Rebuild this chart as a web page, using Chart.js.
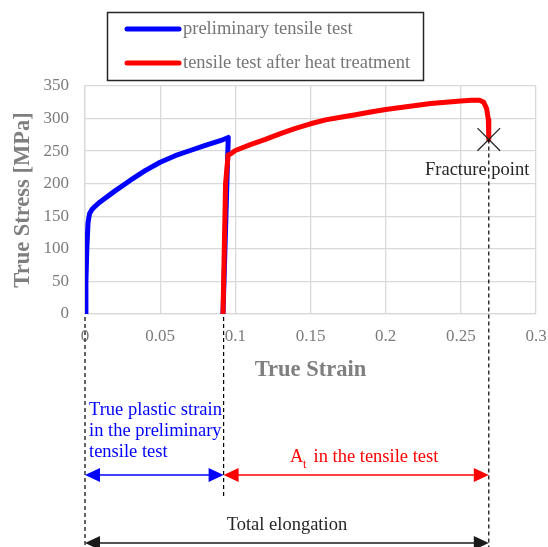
<!DOCTYPE html>
<html>
<head>
<meta charset="utf-8">
<script src="https://cdn.jsdelivr.net/npm/chart.js@4/dist/chart.umd.min.js"></script>
<style>
html,body{margin:0;padding:0;background:#fff;}
canvas{display:block;}
</style>
</head>
<body>
<canvas id="c" width="548" height="547"></canvas>
<script>
// ---- data ----
const seriesLabels = ['preliminary tensile test', 'tensile test after heat treatment'];
const blueStrain = [0, 0.0006, 0.0012, 0.002, 0.003, 0.0045, 0.0065, 0.01, 0.02, 0.03, 0.04, 0.05, 0.06, 0.07, 0.08, 0.09, 0.0953, 0.0918];
const blueStress = [0, 50, 100, 140, 154, 160, 165, 172, 189, 205, 220, 233, 243, 251, 259, 266, 271, 0];
const redStrain = [0.0918, 0.0935, 0.0952, 0.097, 0.1, 0.11, 0.12, 0.13, 0.14, 0.15, 0.16, 0.17, 0.18, 0.19, 0.2, 0.21, 0.22, 0.23, 0.24, 0.25, 0.257, 0.2625, 0.2652, 0.2672, 0.2683, 0.2686];
const redStress = [0, 200, 244, 246, 251, 260, 268, 277, 285, 292, 298, 302, 306, 310, 314, 317, 320, 323, 325, 327, 328, 328, 325, 315, 298, 268];
const fracture = {strain: 0.2686, stress: 268};
const markerStrains = [0, 0.0922, 0.2686];
const xTickLabels = ['0', '0.05', '0.1', '0.15', '0.2', '0.25', '0.3'];
const yTickLabels = ['0', '50', '100', '150', '200', '250', '300', '350'];
const xTitle = 'True Strain';
const yTitle = 'True Stress [MPa]';

const toPts = (xs, ys) => xs.map((x, i) => ({x: x, y: ys[i]}));
const SERIF = '"Liberation Serif", "Times New Roman", serif';
const colors = ['#0000ff', '#ff0000'];

const annotPlugin = {
  id: 'annot',
  afterDatasetsDraw(chart) {
    const ctx = chart.ctx;
    const xs = chart.scales.x, ys = chart.scales.y;
    const xp = v => xs.getPixelForValue(v);
    const x0 = xp(markerStrains[0]), x1 = xp(markerStrains[1]), x2 = xp(markerStrains[2]);
    ctx.save();
    // dashed guide lines
    ctx.strokeStyle = '#000';
    ctx.lineWidth = 1.2;
    ctx.setLineDash([4, 3]);
    const dl = (x, ya, yb) => { ctx.beginPath(); ctx.moveTo(x, ya); ctx.lineTo(x, yb); ctx.stroke(); };
    dl(x0, ys.getPixelForValue(0) + 3, 547);
    dl(x1, ys.getPixelForValue(0) + 3, 498);
    dl(x2, ys.getPixelForValue(fracture.stress), 547);
    ctx.setLineDash([]);

    // arrows
    const arrow = (xa, xb, y, col) => {
      ctx.strokeStyle = col; ctx.fillStyle = col; ctx.lineWidth = 1.5;
      ctx.beginPath(); ctx.moveTo(xa + 8, y); ctx.lineTo(xb - 8, y); ctx.stroke();
      const L = 15, H = 7;
      ctx.beginPath(); ctx.moveTo(xa, y); ctx.lineTo(xa + L, y - H); ctx.lineTo(xa + L, y + H); ctx.closePath(); ctx.fill();
      ctx.beginPath(); ctx.moveTo(xb, y); ctx.lineTo(xb - L, y - H); ctx.lineTo(xb - L, y + H); ctx.closePath(); ctx.fill();
    };
    arrow(x0, x1, 475, '#0000ff');
    arrow(x1, x2, 475, '#ff0000');
    arrow(x0, x2, 543, '#1a1a1a');

    // texts
    ctx.textBaseline = 'alphabetic';
    ctx.font = '18.5px ' + SERIF;
    ctx.fillStyle = '#0000ff';
    ctx.textAlign = 'left';
    ctx.fillText('True plastic strain', x0 + 4, 415);
    ctx.fillText('in the preliminary', x0 + 4, 436);
    ctx.fillText('tensile test', x0 + 4, 457);

    ctx.fillStyle = '#ff0000';
    ctx.fillText('A', 290, 462);
    ctx.font = '12px ' + SERIF;
    ctx.fillText('t', 303, 468);
    ctx.font = '18.5px ' + SERIF;
    ctx.fillText('in the tensile test', 313.5, 462);

    ctx.fillStyle = '#262626';
    ctx.textAlign = 'center';
    ctx.fillText('Total elongation', (x0 + x2) / 2, 530);
    ctx.textAlign = 'left';
    ctx.fillText('Fracture point', 425, 175);

    // legend
    ctx.strokeStyle = '#262626';
    ctx.lineWidth = 1.5;
    ctx.strokeRect(107.5, 12.5, 316, 68);
    const ly = [29, 63];
    seriesLabels.forEach((lab, i) => {
      ctx.strokeStyle = colors[i];
      ctx.lineWidth = 5;
      ctx.lineCap = 'round';
      ctx.beginPath(); ctx.moveTo(127, ly[i]); ctx.lineTo(179, ly[i]); ctx.stroke();
      ctx.fillStyle = '#767676';
      ctx.font = '18.5px ' + SERIF;
      ctx.textBaseline = 'middle';
      ctx.textAlign = 'left';
      ctx.fillText(lab, 183, ly[i]);
    });
    ctx.restore();
  }
};

new Chart(document.getElementById('c'), {
  type: 'scatter',
  data: {
    datasets: [
      {
        label: 'Fracture',
        data: [{x: fracture.strain, y: fracture.stress}],
        pointStyle: 'crossRot', pointRadius: 16, pointBorderColor: '#262626', pointBorderWidth: 1.3,
        borderColor: '#262626', showLine: false, order: 0
      },
      {
        label: seriesLabels[1],
        data: toPts(redStrain, redStress),
        borderColor: colors[1], backgroundColor: colors[1], borderWidth: 5,
        showLine: true, pointRadius: 0, tension: 0, borderCapStyle: 'round', borderJoinStyle: 'round', order: 1
      },
      {
        label: seriesLabels[0],
        data: toPts(blueStrain, blueStress),
        borderColor: colors[0], backgroundColor: colors[0], borderWidth: 5,
        showLine: true, pointRadius: 0, tension: 0, borderCapStyle: 'round', borderJoinStyle: 'round', order: 2
      }
    ]
  },
  options: {
    responsive: false,
    animation: false,
    devicePixelRatio: 1,
    layout: {autoPadding: false, padding: {left: 0, top: 86, right: 12, bottom: 153}},
    plugins: {legend: {display: false}, tooltip: {enabled: false}},
    scales: {
      x: {
        type: 'linear', min: 0, max: 0.3,
        afterFit: s => { s.height = 80; s.paddingRight = 0; s.paddingLeft = 0; },
        ticks: {stepSize: 0.05, padding: 12, color: '#7b7b7b', font: {family: SERIF, size: 17},
          callback: (v, i) => xTickLabels[i]},
        grid: {color: '#d9d9d9', lineWidth: 1.3, drawTicks: false},
        border: {color: '#d9d9d9', width: 1.3},
        title: {display: true, text: xTitle, color: '#7f7f7f', font: {family: SERIF, size: 22.5, weight: 'bold'}, padding: {top: 0, bottom: 10}}
      },
      y: {
        type: 'linear', min: 0, max: 350,
        afterFit: s => { s.width = 85; },
        ticks: {stepSize: 50, padding: 16, color: '#7b7b7b', font: {family: SERIF, size: 17},
          callback: (v, i) => yTickLabels[i]},
        grid: {color: '#d9d9d9', lineWidth: 1.3, drawTicks: false},
        border: {color: '#d9d9d9', width: 1.3},
        title: {display: true, text: yTitle, color: '#7f7f7f', font: {family: SERIF, size: 22.5, weight: 'bold'}, padding: {top: 10, bottom: 0}}
      }
    }
  },
  plugins: [annotPlugin]
});
</script>
</body>
</html>
